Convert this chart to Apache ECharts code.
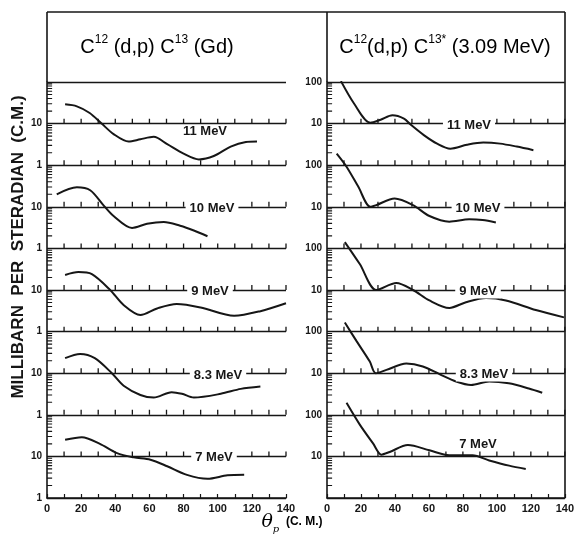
<!DOCTYPE html>
<html>
<head>
<meta charset="utf-8">
<title>C12(d,p)C13 angular distributions</title>
<script src="https://cdn.jsdelivr.net/npm/echarts@6/dist/echarts.min.js"></script>
<style>
  html, body { margin: 0; padding: 0; background: #fff; }
  #chart { width: 577px; height: 535px; }
</style>
</head>
<body>
<div id="chart"></div>
<script>
// deuteron energies, top strip first
var energies = ['11', '10', '9', '8.3', '7'];
// each strip is lifted by this many decades in the stacked plot
var decadeShift = [8, 6, 4, 2, 0];

// left panel: C12(d,p)C13 ground state, [theta c.m., mb/sr]
var gd11 = [[10.6, 29], [17.5, 26], [25, 18], [32, 10], [39, 5.6], [47.8, 3.7], [54.7, 4.2], [62.5, 4.8], [70.4, 3.2], [80, 1.9], [89, 1.38], [97.7, 1.66], [107.6, 2.8], [116.5, 3.6], [123, 3.7]];
var gd10 = [[5.7, 20], [17.5, 29.5], [25.3, 25], [33, 11], [39, 6], [49.8, 3.1], [58.6, 3.9], [68.4, 4.3], [78, 3.5], [86, 2.7], [94, 1.96]];
var gd9 = [[10.6, 23], [18.4, 27], [26.3, 24], [37, 10], [45, 4.3], [54.7, 2.5], [64.5, 3.6], [76, 4.6], [90, 3.8], [109.6, 2.4], [125, 3.1], [140, 4.8]];
var gd83 = [[10.6, 23], [19.4, 29], [28, 23], [38, 10], [44.9, 5], [54.7, 3.0], [62.5, 2.6], [73, 3.5], [79, 3.2], [86, 2.6], [101.8, 3.2], [113.5, 4.2], [125, 4.8]];
var gd7 = [[10.6, 25], [20.4, 29], [31, 20], [41, 12], [50.8, 9.5], [60.6, 8.3], [70.4, 5.8], [82, 3.6], [94, 2.9], [105.7, 3.5], [115.5, 3.6]];

// right panel: C12(d,p)C13* (3.09 MeV level)
var ex11 = [[8.2, 105], [16, 30], [25.5, 10.5], [31.6, 12.4], [38.5, 15.8], [45.3, 13.2], [49.2, 9.5], [57, 5.3], [64.8, 3.3], [72.6, 2.5], [82.4, 3.1], [92, 3.5], [101.9, 3.3], [111.7, 2.8], [121.5, 2.3]];
var ex10 = [[5.7, 190], [11.5, 92], [18.3, 31], [25.5, 10], [29, 11], [39.8, 15.8], [50.6, 11], [60.3, 6], [72, 4.4], [83.7, 5], [91.6, 4.8], [99.4, 4.2]];
var ex9 = [[10.5, 142], [19.3, 42], [29, 10], [40.8, 14.7], [50.6, 10], [60.3, 5.6], [72, 3.7], [81.8, 5.1], [93.6, 6.4], [105.3, 5.6], [122.9, 3.3], [139.5, 2.2]];
var ex83 = [[10.5, 165], [17.4, 59], [25.2, 19], [28.7, 10], [35, 12], [46.7, 17], [56.4, 14.5], [66.2, 9.5], [76, 6.3], [84.8, 5.2], [95.5, 6.3], [107, 5.7], [118.8, 4.3], [126.7, 3.4]];
var ex7 = [[11.5, 194], [19.3, 58], [27.1, 20.5], [32, 11], [36.9, 12.8], [47.6, 18.7], [60.3, 14], [72, 10.6], [85.7, 10.6], [95.5, 8], [107.2, 6], [117, 5]];

var groundCurves = [gd11, gd10, gd9, gd83, gd7];
var excitedCurves = [ex11, ex10, ex9, ex83, ex7];

// tick marks
var xTicks = [10, 20, 30, 40, 50, 60, 70, 80, 90, 100, 110, 120, 130, 140];
var innerDecades = [1, 2, 3, 4, 5, 6, 7, 8, 9];
var minorSteps = [2, 3, 4, 5, 6, 7, 8, 9];

var ink = '#161616';
var font = '"Liberation Sans", Arial, sans-serif';
// tick lengths in axis units: ~5px up on a 42px decade, ~5px right on 1.7px/degree
var tickRise = Math.pow(10, 5 / 42);
var tickRun = 3;

function lift(points, shift) {
  var f = Math.pow(10, shift);
  return points.map(function (p) { return [p[0], p[1] * f]; });
}

function decadeOf(v) {
  return Math.round(Math.log(v) / Math.LN10);
}

// left panel labels: 1 / 10 alternate, none on top line
function leftLabel(v) {
  var k = decadeOf(v);
  if (k >= 10) return '';
  return k % 2 === 0 ? '1' : '10';
}

// right panel labels: 10 / 100 alternate, none on the bottom line
function rightLabel(v) {
  var k = decadeOf(v);
  if (k <= 0) return '';
  return k % 2 === 1 ? '10' : '100';
}

function makeXAxis(gridIndex) {
  return {
    type: 'value', gridIndex: gridIndex, min: 0, max: 140, interval: 10,
    axisLine: { lineStyle: { color: ink, width: 1.6 } },
    axisTick: { inside: true, length: 4, lineStyle: { color: ink, width: 1.2 } },
    splitLine: { show: false },
    axisLabel: {
      color: ink, fontFamily: font, fontWeight: 'bold', fontSize: 11, margin: 5,
      showMinLabel: true, showMaxLabel: true,
      formatter: function (v) { return v % 20 === 0 ? String(v) : ''; }
    }
  };
}

function makeYAxis(gridIndex, labelFn) {
  return {
    type: 'log', logBase: 10, gridIndex: gridIndex, min: 1, max: 1e10,
    interval: 1, splitNumber: 10,
    axisLine: { show: true, lineStyle: { color: ink, width: 1.6 } },
    axisTick: { show: false },
    splitLine: { show: true, lineStyle: { color: ink, width: 1.4 } },
    axisLabel: {
      color: ink, fontFamily: font, fontWeight: 'bold', fontSize: 10, margin: 5,
      showMinLabel: true, showMaxLabel: true, formatter: labelFn
    }
  };
}

function curveSeries(gridIndex, curves) {
  return curves.map(function (pts, i) {
    return {
      name: energies[i] + ' MeV', type: 'line', xAxisIndex: gridIndex, yAxisIndex: gridIndex,
      data: lift(pts, decadeShift[i]), smooth: 0.3, showSymbol: false, clip: true,
      lineStyle: { color: ink, width: 2 }, silent: true, z: 4
    };
  });
}

// tick strokes as broken line series, so they go through the axes' scales
function strokeLine(gridIndex, pts, width) {
  return {
    type: 'line', xAxisIndex: gridIndex, yAxisIndex: gridIndex, data: pts,
    showSymbol: false, connectNulls: false, clip: false, silent: true, z: 3,
    lineStyle: { color: ink, width: width, cap: 'butt' }
  };
}

function decadeTicks(gridIndex) {
  var pts = [];
  innerDecades.forEach(function (k) {
    var base = Math.pow(10, k);
    xTicks.forEach(function (t) {
      pts.push([t, base], [t, base * tickRise], [t, '-']);
    });
  });
  return strokeLine(gridIndex, pts, 1.3);
}

function minorTicks(gridIndex) {
  var pts = [];
  for (var k = 0; k < 10; k++) {
    minorSteps.forEach(function (m) {
      var v = m * Math.pow(10, k);
      pts.push([0, v], [tickRun, v], ['-', v]);
    });
  }
  return strokeLine(gridIndex, pts, 1.1);
}

function energyText(text, x, y, covered) {
  return {
    type: 'text', x: x, y: y, z: 100,
    style: {
      text: text, font: 'bold 13px ' + font, fill: ink,
      align: 'center', verticalAlign: 'middle',
      textAlign: 'center', textVerticalAlign: 'middle',
      backgroundColor: covered ? '#fff' : 'transparent', padding: [1, 4]
    }
  };
}

function frameLine(x1, y1, x2, y2) {
  return {
    type: 'line', z: 50, silent: true, shape: { x1: x1, y1: y1, x2: x2, y2: y2 },
    style: { stroke: ink, lineWidth: 1.6 }
  };
}

var titleRich = {
  c: { fontSize: 20, fontFamily: font, color: ink, lineHeight: 26 },
  s: { fontSize: 12, fontFamily: font, color: ink, verticalAlign: 'top', lineHeight: 26 }
};

var chart = echarts.init(document.getElementById('chart'));

var option = {
  backgroundColor: '#fff',
  animation: false,
  grid: [
    { left: 47, right: 291, top: 82, bottom: 37 },
    { left: 327, right: 12, top: 82, bottom: 37 }
  ],
  xAxis: [makeXAxis(0), makeXAxis(1)],
  yAxis: [makeYAxis(0, leftLabel), makeYAxis(1, rightLabel)],
  series: curveSeries(0, groundCurves).concat(
    curveSeries(1, excitedCurves),
    [decadeTicks(0), decadeTicks(1), minorTicks(0), minorTicks(1)]
  ),
  graphic: [
    // title box
    frameLine(47, 12, 565, 12),
    frameLine(47, 12, 47, 82),
    frameLine(327, 12, 327, 82),
    frameLine(565, 12, 565, 498),
    {
      type: 'text', x: 157, y: 47, z: 100,
      style: {
        text: '{c|C}{s|12}{c| (d,p) C}{s|13}{c| (Gd)}', rich: titleRich,
        align: 'center', verticalAlign: 'middle', textAlign: 'center', textVerticalAlign: 'middle'
      }
    },
    {
      type: 'text', x: 445, y: 47, z: 100,
      style: {
        text: '{c|C}{s|12}{c|(d,p) C}{s|13*}{c| (3.09 MeV)}', rich: titleRich,
        align: 'center', verticalAlign: 'middle', textAlign: 'center', textVerticalAlign: 'middle'
      }
    },
    // strip labels, left panel
    energyText(energies[0] + ' MeV', 205, 131, false),
    energyText(energies[1] + ' MeV', 212, 208, true),
    energyText(energies[2] + ' MeV', 210, 291, true),
    energyText(energies[3] + ' MeV', 218, 375, true),
    energyText(energies[4] + ' MeV', 214, 457, true),
    // strip labels, right panel
    energyText(energies[0] + ' MeV', 469, 125, true),
    energyText(energies[1] + ' MeV', 478, 208, true),
    energyText(energies[2] + ' MeV', 478, 291, true),
    energyText(energies[3] + ' MeV', 484, 374, true),
    energyText(energies[4] + ' MeV', 478, 444, false),
    // axis names
    {
      type: 'text', x: 18, y: 247, rotation: Math.PI / 2, z: 100,
      style: {
        text: 'MILLIBARN  PER  STERADIAN  (C.M.)', font: 'bold 17px ' + font, fill: ink,
        align: 'center', verticalAlign: 'middle', textAlign: 'center', textVerticalAlign: 'middle'
      }
    },
    {
      type: 'text', x: 292, y: 522, z: 100,
      style: {
        text: '{t|θ}{p|p}{c|  (C. M.)}',
        align: 'center', verticalAlign: 'middle', textAlign: 'center', textVerticalAlign: 'middle',
        rich: {
          t: { fontSize: 19, fontStyle: 'italic', fontFamily: '"DejaVu Serif", serif', color: ink, lineHeight: 24 },
          p: { fontSize: 10, fontStyle: 'italic', fontFamily: '"DejaVu Serif", serif', color: ink, verticalAlign: 'bottom', lineHeight: 24 },
          c: { fontSize: 12, fontWeight: 'bold', fontFamily: font, color: ink, lineHeight: 24 }
        }
      }
    }
  ]
};

chart.setOption(option);
</script>
</body>
</html>
